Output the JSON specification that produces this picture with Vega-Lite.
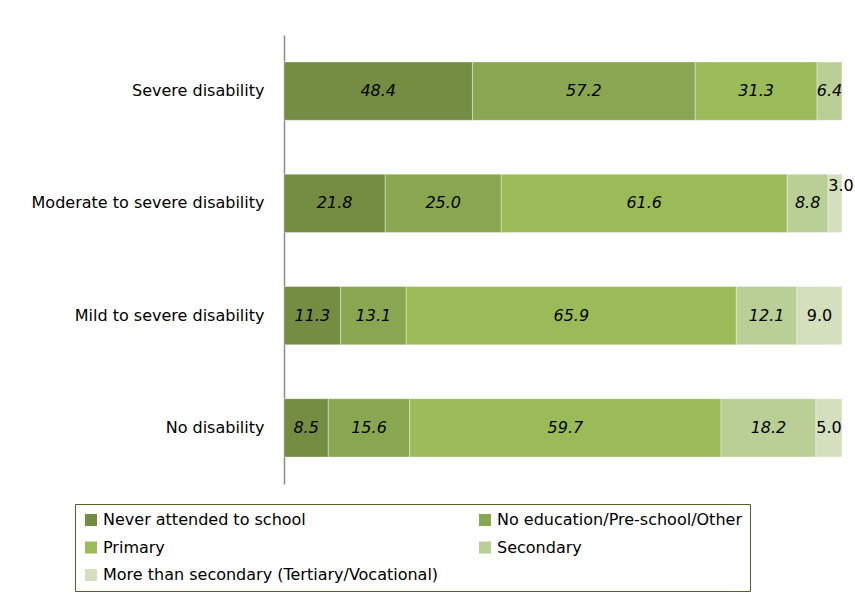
{
  "$schema": "https://vega.github.io/schema/vega-lite/v6.json",
  "autosize": {"type": "none"},
  "width": 558,
  "height": 449,
  "padding": {"left": 284, "top": 35, "right": 13, "bottom": 117},
  "background": "white",
  "config": {
    "view": {"stroke": null},
    "font": "DejaVu Sans"
  },
  "data": {
    "values": [
      {"group": "Severe disability", "level": "Never attended to school", "rank": 1, "pct": 48.4},
      {"group": "Severe disability", "level": "No education/Pre-school/Other", "rank": 2, "pct": 57.2},
      {"group": "Severe disability", "level": "Primary", "rank": 3, "pct": 31.3},
      {"group": "Severe disability", "level": "Secondary", "rank": 4, "pct": 6.4},
      {"group": "Moderate to severe disability", "level": "Never attended to school", "rank": 1, "pct": 21.8},
      {"group": "Moderate to severe disability", "level": "No education/Pre-school/Other", "rank": 2, "pct": 25.0},
      {"group": "Moderate to severe disability", "level": "Primary", "rank": 3, "pct": 61.6},
      {"group": "Moderate to severe disability", "level": "Secondary", "rank": 4, "pct": 8.8},
      {"group": "Moderate to severe disability", "level": "More than secondary (Tertiary/Vocational)", "rank": 5, "pct": 3.0},
      {"group": "Mild to severe disability", "level": "Never attended to school", "rank": 1, "pct": 11.3},
      {"group": "Mild to severe disability", "level": "No education/Pre-school/Other", "rank": 2, "pct": 13.1},
      {"group": "Mild to severe disability", "level": "Primary", "rank": 3, "pct": 65.9},
      {"group": "Mild to severe disability", "level": "Secondary", "rank": 4, "pct": 12.1},
      {"group": "Mild to severe disability", "level": "More than secondary (Tertiary/Vocational)", "rank": 5, "pct": 9.0},
      {"group": "No disability", "level": "Never attended to school", "rank": 1, "pct": 8.5},
      {"group": "No disability", "level": "No education/Pre-school/Other", "rank": 2, "pct": 15.6},
      {"group": "No disability", "level": "Primary", "rank": 3, "pct": 59.7},
      {"group": "No disability", "level": "Secondary", "rank": 4, "pct": 18.2},
      {"group": "No disability", "level": "More than secondary (Tertiary/Vocational)", "rank": 5, "pct": 5.0}
    ]
  },
  "encoding": {
    "y": {
      "field": "group",
      "type": "nominal",
      "sort": null,
      "scale": {"paddingInner": 0.48, "paddingOuter": 0.24},
      "axis": {
        "title": null,
        "ticks": false,
        "domainColor": "#8c8c8c",
        "domainWidth": 1.5,
        "labelFontSize": 16,
        "labelColor": "#000000",
        "labelPadding": 20,
        "labelLimit": 400
      }
    },
    "order": {"field": "rank", "type": "quantitative", "sort": "ascending"}
  },
  "layer": [
    {
      "mark": {"type": "bar", "stroke": "#ffffff", "strokeWidth": 0.6, "strokeOpacity": 0.6},
      "encoding": {
        "x": {"field": "pct", "type": "quantitative", "stack": "normalize", "axis": null},
        "color": {
          "field": "level",
          "type": "nominal",
          "scale": {
            "domain": ["Never attended to school", "Primary", "More than secondary (Tertiary/Vocational)", "No education/Pre-school/Other", "Secondary"],
            "range": ["#748d42", "#9bbb59", "#d3dfbd", "#89a651", "#bacf96"]
          },
          "legend": {
            "title": null,
            "orient": "none",
            "legendX": -209,
            "legendY": 469,
            "columns": 2,
            "gridAlign": "all",
            "columnPadding": 38,
            "rowPadding": 11.5,
            "padding": 8,
            "strokeColor": "#4f6228",
            "symbolType": "square",
            "symbolSize": 144,
            "symbolStrokeWidth": 0,
            "labelFontSize": 16,
            "labelColor": "#000000",
            "labelOffset": 4,
            "labelLimit": 500,
            "encode": {"legend": {"update": {"strokeWidth": {"value": 2.5}}}}
          }
        }
      }
    },
    {
      "mark": {"type": "text", "fontStyle": "italic", "fontSize": 16, "color": "#000000"},
      "encoding": {
        "x": {"field": "pct", "type": "quantitative", "stack": "normalize", "bandPosition": 0.5, "axis": null},
        "detail": {"field": "level"},
        "text": {
          "condition": {"test": "datum.rank == 5", "value": ""},
          "field": "pct", "type": "quantitative", "format": ".1f"
        }
      }
    },
    {
      "mark": {"type": "text", "fontSize": 16, "color": "#000000"},
      "encoding": {
        "x": {"field": "pct", "type": "quantitative", "stack": "normalize", "bandPosition": 0.5, "axis": null},
        "detail": {"field": "level"},
        "text": {
          "condition": {"test": "datum.rank != 5 || datum.group == 'Moderate to severe disability'", "value": ""},
          "field": "pct", "type": "quantitative", "format": ".1f"
        }
      }
    },
    {
      "mark": {"type": "text", "fontSize": 16, "color": "#000000", "dx": 6, "dy": -17},
      "encoding": {
        "x": {"field": "pct", "type": "quantitative", "stack": "normalize", "bandPosition": 0.5, "axis": null},
        "detail": {"field": "level"},
        "text": {
          "condition": {"test": "datum.rank != 5 || datum.group != 'Moderate to severe disability'", "value": ""},
          "field": "pct", "type": "quantitative", "format": ".1f"
        }
      }
    }
  ]
}
